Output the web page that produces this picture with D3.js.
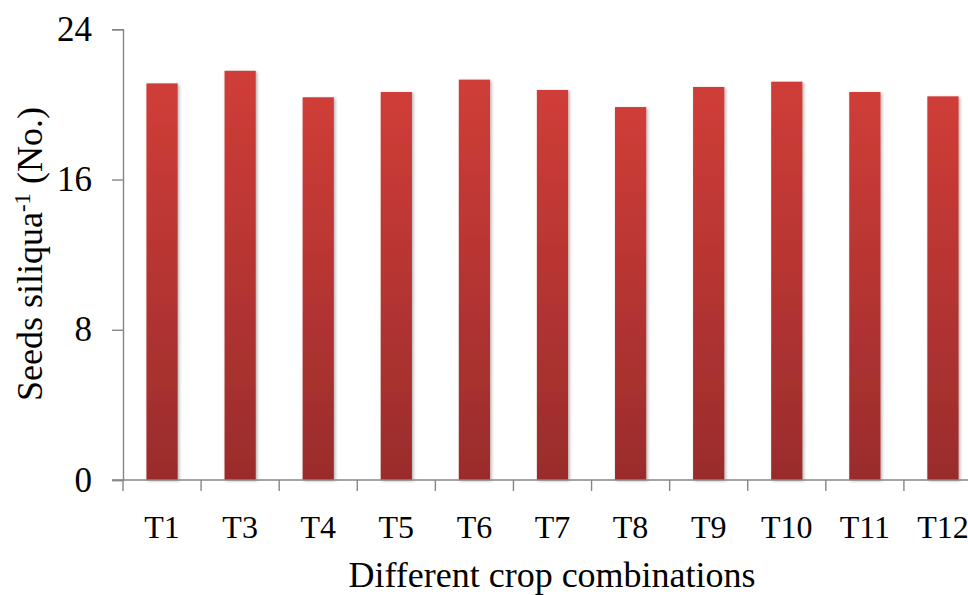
<!DOCTYPE html>
<html lang="en">
<head>
    <meta charset="utf-8" />
    <script src="https://d3js.org/d3.v7.min.js"></script>
    <style>
        body { margin: 0; background: #fff; }
        svg { display: block; }
    </style>
</head>
<body>
    <script>
        const w = 968;
        const h = 595;

        // data
        const treatments = ["1", "3", "4", "5", "6", "7", "8", "9", "10", "11", "12"];
        const seeds = [21.12, 21.79, 20.38, 20.66, 21.32, 20.77, 19.86, 20.93, 21.21, 20.66, 20.43];
        const yTicks = [0, 8, 16, 24];

        const plotLeft = 123, plotRight = 982, plotTop = 29.3, plotBottom = 480;
        const serif = "'Liberation Serif', 'Times New Roman', serif";

        const xScale = d3.scaleBand()
            .domain(treatments)
            .range([plotLeft, plotRight])
            .paddingInner(0.6)
            .paddingOuter(0.3);

        const yScale = d3.scaleLinear()
            .domain([0, 24])
            .range([plotBottom, plotTop]);

        const svg = d3.select("body")
            .append("svg")
            .attr("width", w)
            .attr("height", h);

        const defs = svg.append("defs");
        const grad = defs.append("linearGradient")
            .attr("id", "barGrad")
            .attr("x1", 0).attr("y1", 0).attr("x2", 0).attr("y2", 1);
        grad.append("stop").attr("offset", "0%").attr("stop-color", "#d03d38");
        grad.append("stop").attr("offset", "100%").attr("stop-color", "#9a2c2c");

        const shadow = defs.append("filter").attr("id", "shadow")
            .attr("x", "-20%").attr("y", "-5%").attr("width", "150%").attr("height", "115%");
        shadow.append("feDropShadow")
            .attr("dx", 1.5).attr("dy", 1)
            .attr("stdDeviation", 1.5)
            .attr("flood-color", "#000")
            .attr("flood-opacity", 0.3);

        // bars
        svg.append("g")
            .selectAll("rect")
            .data(treatments)
            .enter()
            .append("rect")
            .attr("x", d => xScale(d))
            .attr("width", xScale.bandwidth())
            .attr("y", (d, i) => yScale(seeds[i]))
            .attr("height", (d, i) => plotBottom - yScale(seeds[i]))
            .attr("fill", "url(#barGrad)")
            .attr("filter", "url(#shadow)");

        // y axis
        const yAxis = d3.axisLeft(yScale)
            .tickValues(yTicks)
            .tickSize(11)
            .tickPadding(20);

        const gy = svg.append("g")
            .attr("transform", "translate(" + plotLeft + ",0)")
            .call(yAxis);
        gy.select(".domain").attr("stroke", "#868686").attr("stroke-width", 1.4);
        gy.selectAll(".tick line").attr("stroke", "#868686").attr("stroke-width", 1.4);
        gy.selectAll(".tick text")
            .attr("font-family", serif)
            .attr("font-size", 35)
            .attr("fill", "#000");

        // x axis: ticks at band edges
        const gx = svg.append("g")
            .attr("transform", "translate(0," + plotBottom + ")");
        gx.append("line")
            .attr("x1", plotLeft - 11).attr("x2", w)
            .attr("stroke", "#868686").attr("stroke-width", 1.4);
        const step = xScale.step();
        gx.selectAll(".edge")
            .data(d3.range(treatments.length + 1))
            .enter()
            .append("line")
            .attr("x1", i => plotLeft + i * step)
            .attr("x2", i => plotLeft + i * step)
            .attr("y1", 0).attr("y2", 11)
            .attr("stroke", "#868686").attr("stroke-width", 1.4);

        const xLabels = gx.selectAll(".lbl")
            .data(treatments)
            .enter()
            .append("text")
            .attr("x", d => xScale(d) + xScale.bandwidth() / 2)
            .attr("y", 58)
            .attr("text-anchor", "middle")
            .attr("font-family", serif)
            .attr("font-size", 32)
            .attr("fill", "#000");
        xLabels.append("tspan").text("T");
        xLabels.append("tspan").text(d => d);

        // axis titles
        svg.append("text")
            .attr("x", 552)
            .attr("y", 587)
            .attr("text-anchor", "middle")
            .attr("font-family", serif)
            .attr("font-size", 36)
            .text("Different crop combinations");

        const yTitle = svg.append("text")
            .attr("transform", "translate(42,254) rotate(-90)")
            .attr("text-anchor", "middle")
            .attr("font-family", serif)
            .attr("font-size", 36);
        yTitle.append("tspan").text("Seeds siliqua");
        yTitle.append("tspan").attr("baseline-shift", "super").attr("font-size", 23).text("-1");
        yTitle.append("tspan").text(" (No.)");
    </script>
</body>
</html>
